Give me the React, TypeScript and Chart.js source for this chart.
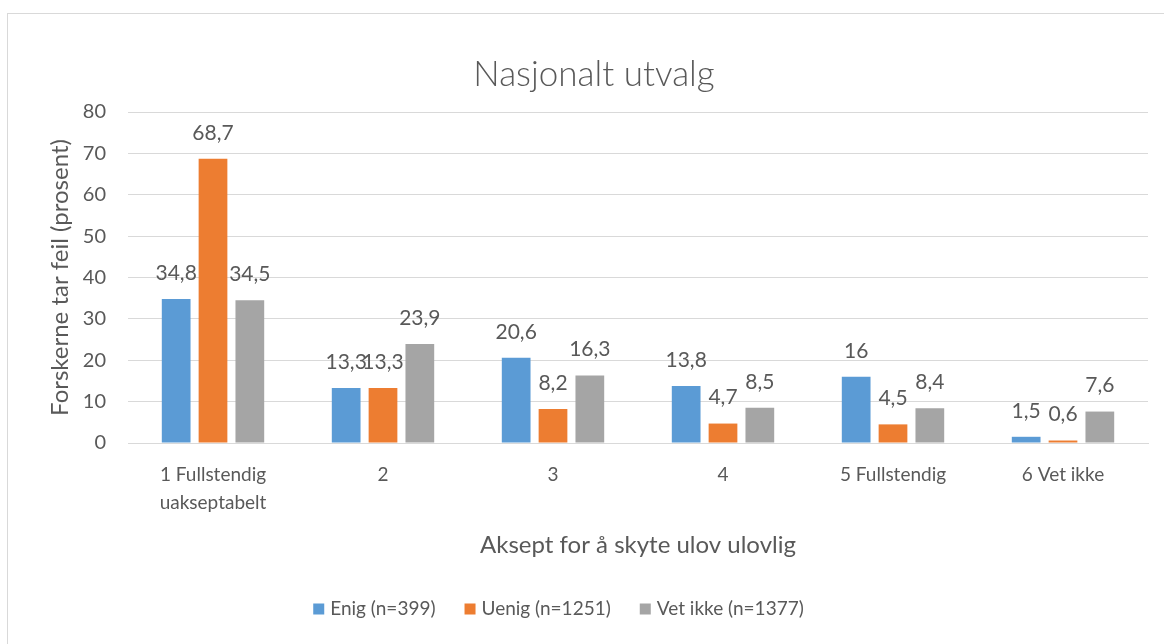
import React, { useEffect, useRef } from "react";
import { Chart, registerables } from "chart.js";

Chart.register(...registerables);

const categories: (string | string[])[] = [
  ["1 Fullstendig", "uakseptabelt"],
  "2",
  "3",
  "4",
  "5 Fullstendig",
  "6 Vet ikke",
];
const enig = [34.8, 13.3, 20.6, 13.8, 16, 1.5];
const uenig = [68.7, 13.3, 8.2, 4.7, 4.5, 0.6];
const vetIkke = [34.5, 23.9, 16.3, 8.5, 8.4, 7.6];
const seriesNames = ["Enig (n=399)", "Uenig (n=1251)", "Vet ikke (n=1377)"];
const seriesColors = ["#5B9BD5", "#ED7D31", "#A5A5A5"];
const yTicks = [0, 10, 20, 30, 40, 50, 60, 70, 80];

const FONT = "Lato, 'Noto Sans', sans-serif";
const TEXT = "#595959";

const dataLabels = {
  id: "dataLabels",
  afterDatasetsDraw(chart: any) {
    const ctx = chart.ctx;
    ctx.save();
    ctx.font = `21px ${FONT}`;
    ctx.fillStyle = TEXT;
    ctx.textAlign = "center";
    ctx.textBaseline = "middle";
    chart.data.datasets.forEach((ds: any, i: number) => {
      const meta = chart.getDatasetMeta(i);
      meta.data.forEach((el: any, j: number) => {
        const v = ds.data[j];
        ctx.fillText(String(v).replace(".", ","), el.x, el.y - 26);
      });
    });
    ctx.restore();
  },
};

const bottomLegend = {
  id: "bottomLegend",
  afterDraw(chart: any) {
    const ctx = chart.ctx;
    ctx.save();
    ctx.font = `19px ${FONT}`;
    ctx.textBaseline = "middle";
    ctx.textAlign = "left";
    const box = 11;
    const gap = 6;
    const itemGap = 29;
    const datasets = chart.data.datasets;
    const widths = datasets.map((d: any) => box + gap + ctx.measureText(d.label).width);
    const total = widths.reduce((a: number, b: number) => a + b, 0) + itemGap * (datasets.length - 1);
    const centerX = 558.5;
    const y = 609;
    let x = centerX - total / 2;
    datasets.forEach((d: any, i: number) => {
      ctx.fillStyle = d.backgroundColor;
      ctx.fillRect(x, y - box / 2, box, box);
      ctx.fillStyle = TEXT;
      ctx.fillText(d.label, x + box + gap, y);
      x += widths[i] + itemGap;
    });
    ctx.restore();
  },
};

export default function App() {
  const ref = useRef<HTMLCanvasElement>(null);
  useEffect(() => {
    document.body.style.margin = "0";
    const chart = new Chart(ref.current!, {
      type: "bar",
      data: {
        labels: categories,
        datasets: [
          { label: seriesNames[0], data: enig, backgroundColor: seriesColors[0] },
          { label: seriesNames[1], data: uenig, backgroundColor: seriesColors[1] },
          { label: seriesNames[2], data: vetIkke, backgroundColor: seriesColors[2] },
        ],
      },
      options: {
        animation: false,
        responsive: false,
        maintainAspectRatio: false,
        layout: { padding: { left: 40, right: 16, top: 54, bottom: 73.5 } },
        datasets: {
          bar: { categoryPercentage: 0.65, barPercentage: 0.78, borderWidth: 0 },
        },
        plugins: {
          title: {
            display: true,
            text: "Nasjonalt utvalg",
            color: TEXT,
            font: { family: FONT, size: 35, weight: "300" as any, lineHeight: 1.2 },
            padding: { top: 0, bottom: 16 },
          },
          legend: { display: false },
          tooltip: { enabled: false },
        },
        scales: {
          x: {
            grid: { display: false, drawTicks: false },
            border: { color: "#d9d9d9", width: 1 },
            ticks: {
              color: TEXT,
              font: { family: FONT, size: 19, lineHeight: 1.47 },
              padding: 18,
              maxRotation: 0,
              autoSkip: false,
            },
            title: {
              display: true,
              text: "Aksept for å skyte ulov ulovlig",
              color: TEXT,
              font: { family: FONT, size: 24, lineHeight: 1.2 },
              padding: { top: 0, bottom: 11 },
            },
            afterFit: (s: any) => {
              s.height = 127.5;
            },
          },
          y: {
            min: 0,
            max: 80,
            afterBuildTicks: (s: any) => {
              s.ticks = yTicks.map((v) => ({ value: v }));
            },
            grid: { color: "#d9d9d9", drawTicks: false },
            border: { display: false },
            ticks: {
              color: TEXT,
              font: { family: FONT, size: 20 },
              padding: 22,
            },
            title: {
              display: true,
              text: "Forskerne tar feil (prosent)",
              color: TEXT,
              font: { family: FONT, size: 24, lineHeight: 1.2 },
              padding: { top: 5.6, bottom: 0 },
            },
            afterFit: (s: any) => {
              s.width = 88;
            },
          },
        },
      },
      plugins: [dataLabels, bottomLegend],
    });
    return () => chart.destroy();
  }, []);

  return (
    <div
      style={{
        position: "fixed",
        left: 0,
        top: 0,
        width: 1164,
        height: 644,
        overflow: "hidden",
        background: "#fff",
      }}
    >
      <div
        style={{
          position: "absolute",
          left: 7,
          top: 13,
          width: 1200,
          height: 700,
          border: "1px solid #d9d9d9",
        }}
      />
      <canvas
        ref={ref}
        width={1164}
        height={644}
        style={{ position: "absolute", left: 0, top: 0 }}
      />
    </div>
  );
}
